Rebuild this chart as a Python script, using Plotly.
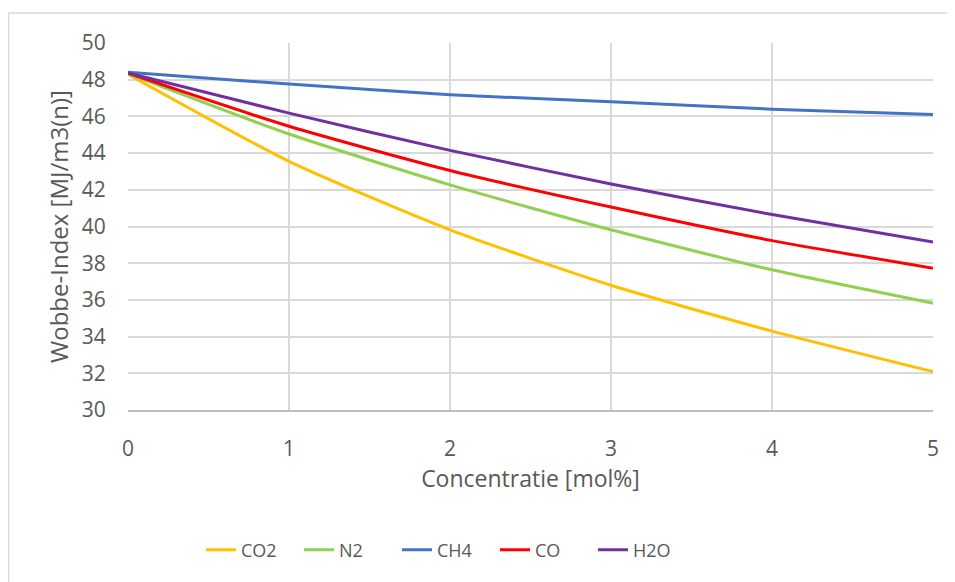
import plotly.graph_objects as go

x_vals = [0, 1, 2, 3, 4, 5]
co2 = [48.30, 43.55, 39.82, 36.80, 34.30, 32.09]
n2 = [48.33, 45.04, 42.27, 39.82, 37.64, 35.82]
ch4 = [48.40, 47.76, 47.18, 46.80, 46.39, 46.10]
co = [48.35, 45.46, 43.05, 41.06, 39.23, 37.73]
h2o = [48.37, 46.18, 44.15, 42.32, 40.65, 39.16]

series = [
    ("CO2", co2, "#FFC000"),
    ("N2", n2, "#92D050"),
    ("CH4", ch4, "#4472C4"),
    ("CO", co, "#FF0000"),
    ("H2O", h2o, "#7030A0"),
]

FONT = "Open Sans"
GRAY = "#595959"
CLEAR = "rgba(0,0,0,0)"

fig = go.Figure()
for name, vals, color in series:
    fig.add_trace(go.Scatter(
        x=x_vals, y=vals, name=name, mode="lines",
        line=dict(color=color, width=3, shape="spline", smoothing=0.6),
    ))

fig.update_layout(
    width=955, height=582,
    margin=dict(l=120, r=30, t=35, b=180),
    paper_bgcolor="white", plot_bgcolor="white",
    font=dict(family=FONT, color=GRAY, size=18),
    showlegend=True,
    legend=dict(orientation="h", x=(201 - 128) / 805, xanchor="left",
                y=(409 - 549) / 367, yanchor="middle",
                entrywidth=53, entrywidthmode="pixels",
                font=dict(size=18, color=GRAY)),
    xaxis=dict(range=[0, 5], dtick=1, showgrid=True, gridcolor="#D9D9D9", gridwidth=1.5,
               showline=True, linecolor="#BFBFBF", linewidth=1.5, zeroline=False,
               ticks="outside", ticklen=19, tickcolor=CLEAR,
               tickfont=dict(size=21, color=GRAY),
               title=dict(text="Concentratie [mol%]", font=dict(size=23, color=GRAY), standoff=6)),
    yaxis=dict(range=[30, 50], dtick=2, showgrid=True, gridcolor="#D9D9D9", gridwidth=1.5,
               showline=False, zeroline=False,
               ticks="outside", ticklen=17, tickcolor=CLEAR,
               tickfont=dict(size=21, color=GRAY),
               title=dict(text="Wobbe-Index [MJ/m3(n)]", font=dict(size=24, color=GRAY), standoff=6)),
    shapes=[
        dict(type="line", xref="paper", yref="paper", x0=(8.5 - 128) / 805, x1=(970 - 128) / 805,
             y0=(409 - 12) / 367, y1=(409 - 12) / 367, line=dict(color="#D9D9D9", width=1.5)),
        dict(type="line", xref="paper", yref="paper", x0=(8.5 - 128) / 805, x1=(8.5 - 128) / 805,
             y0=(409 - 12) / 367, y1=(409 - 600) / 367, line=dict(color="#D9D9D9", width=1.5)),
    ],
)

fig.write_html("out.html")
